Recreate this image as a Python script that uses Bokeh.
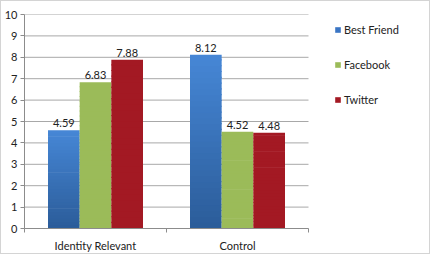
from bokeh.plotting import figure
from bokeh.models import FixedTicker, Legend, LegendItem, ColumnDataSource
from bokeh.core.properties import value
from bokeh.embed import file_html
from bokeh.resources import INLINE

categories = ["Identity Relevant", "Control"]
series = ["Best Friend", "Facebook", "Twitter"]
best_friend = [4.59, 8.12]
facebook = [6.83, 4.52]
twitter = [7.88, 4.48]
y_ticks = [0, 1, 2, 3, 4, 5, 6, 7, 8, 9, 10]

values = [best_friend, facebook, twitter]
colors_top = ["#4687d6", "#9bbb59", "#a31923"]
colors_bot = ["#2b5c99", "#9bbb59", "#a31923"]
legend_colors = ["#3a75c4", "#9bbb59", "#a31923"]

FONT = "Lato"
ncat = len(categories)
plot_px = 284.0
frame_px = 430 - 23 - 1
x_end = ncat * frame_px / plot_px

p = figure(width=430, height=254, output_backend="svg", toolbar_location=None,
           x_range=(0, x_end), y_range=(0, 10),
           min_border_left=23, min_border_right=1, min_border_top=13, min_border_bottom=27)
p.styles = {"border": "1px solid #d4d4d4"}
p.outline_line_color = None
p.xgrid.grid_line_color = None
p.ygrid.grid_line_color = None

# horizontal gridlines limited to the plot area
p.segment(x0=[0] * len(y_ticks), x1=[ncat] * len(y_ticks), y0=y_ticks, y1=y_ticks,
          line_color="#a8a8a8", line_width=1)

p.yaxis.ticker = FixedTicker(ticks=y_ticks)
p.yaxis.axis_line_color = "#8c8c8c"
p.yaxis.major_tick_line_color = "#8c8c8c"
p.yaxis.major_tick_in = 0
p.yaxis.major_tick_out = 4
p.yaxis.minor_tick_line_color = None
p.yaxis.major_label_standoff = 3
p.yaxis.major_label_text_font = FONT
p.yaxis.major_label_text_font_size = "11px"
p.yaxis.major_label_text_color = "#222222"

centers = [i + 0.5 for i in range(ncat)]
p.xaxis.bounds = (0, ncat)
p.xaxis.ticker = FixedTicker(ticks=centers, minor_ticks=[i for i in range(ncat + 1)])
p.xaxis.major_label_overrides = {c: n for c, n in zip(centers, categories)}
p.xaxis.axis_line_color = "#8c8c8c"
p.xaxis.major_tick_line_color = None
p.xaxis.minor_tick_line_color = "#8c8c8c"
p.xaxis.minor_tick_in = 0
p.xaxis.minor_tick_out = 4
p.xaxis.major_tick_out = 0
p.xaxis.major_label_standoff = 6
p.xaxis.major_label_text_font = FONT
p.xaxis.major_label_text_font_size = "11px"
p.xaxis.major_label_text_color = "#222222"

bw = 0.223
N = 30

def mix(c1, c2, t):
    a = [int(c1[i:i + 2], 16) for i in (1, 3, 5)]
    b = [int(c2[i:i + 2], 16) for i in (1, 3, 5)]
    return "#%02x%02x%02x" % tuple(round(a[k] + (b[k] - a[k]) * t) for k in range(3))

legend_items = []
for s, (name, vals) in enumerate(zip(series, values)):
    xs = [c + (s - 1) * bw for c in centers]
    bx, bb, bt, bc = [], [], [], []
    for x, v in zip(xs, vals):
        for i in range(N):
            bx.append(x)
            bb.append(v * i / N)
            bt.append(v * (i + 1) / N + (v / N * 0.2 if i < N - 1 else 0))
            bc.append(mix(colors_bot[s], colors_top[s], (i + 0.5) / N))
    p.vbar(x=bx, bottom=bb, top=bt, width=bw, fill_color=bc, line_color=None)
    src = ColumnDataSource(dict(x=xs, y=vals, t=["%.2f" % v for v in vals]))
    p.text(x="x", y="y", text="t", source=src, text_align="center", text_baseline="bottom",
           y_offset=-3, text_font=value(FONT), text_font_size="11px", text_color="#222222")
    dummy = p.rect(x=[float("nan")], y=[float("nan")], width=1, height=1,
                   fill_color=legend_colors[s], line_color=None)
    legend_items.append(LegendItem(label=name, renderers=[dummy]))

legend = Legend(items=legend_items, location=(310, 119), border_line_color=None,
                background_fill_alpha=0, glyph_width=7, glyph_height=7,
                label_height=20, spacing=15, label_standoff=3, padding=0, margin=0,
                label_text_font=FONT, label_text_font_size="11px", label_text_color="#222222")
p.add_layout(legend)

open("out.html", "w").write(file_html(p, INLINE))
